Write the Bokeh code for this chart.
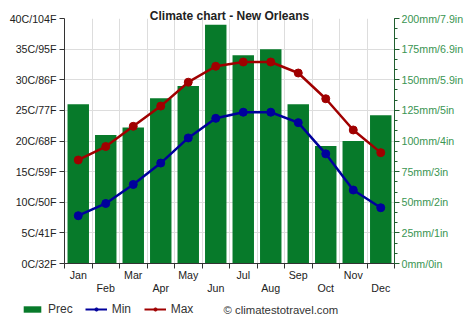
from bokeh.plotting import figure
from bokeh.layouts import column
from bokeh.models import (Range1d, LinearAxis, FixedTicker, Label, Legend, LegendItem,
                          ColumnDataSource)
from bokeh.embed import file_html
from bokeh.resources import INLINE

months = ["Jan", "Feb", "Mar", "Apr", "May", "Jun", "Jul", "Aug", "Sep", "Oct", "Nov", "Dec"]
prec = [130, 105, 111, 135, 145, 195, 170, 175, 130, 96, 100, 121]
tmin = [7.8, 9.8, 12.9, 16.4, 20.5, 23.7, 24.7, 24.7, 23.0, 17.9, 12.0, 9.1]
tmax = [16.9, 19.1, 22.4, 25.7, 29.6, 32.2, 32.9, 32.9, 31.1, 26.9, 21.8, 18.1]
left_labels = ["0C/32F", "5C/41F", "10C/50F", "15C/59F", "20C/68F", "25C/77F",
               "30C/86F", "35C/95F", "40C/104F"]
right_labels = ["0mm/0in", "25mm/1in", "50mm/2in", "75mm/3in", "100mm/4in",
                "125mm/5in", "150mm/5.9in", "175mm/6.9in", "200mm/7.9in"]

FONT = "Liberation Sans"
GREEN = "#077a2a"
BLUE = "#00009c"
RED = "#a00000"

xs = list(range(1, 13))
src = ColumnDataSource(dict(x=xs, prec=prec, tmin=tmin, tmax=tmax))

p = figure(width=474, height=299, output_backend="svg", toolbar_location=None,
           x_range=Range1d(0.5, 12.5), y_range=Range1d(0, 40),
           min_border_left=64, min_border_right=80, min_border_top=18,
           min_border_bottom=36, title="Climate chart - New Orleans")
p.extra_y_ranges = {"prec": Range1d(0, 200)}
p.outline_line_color = None
p.background_fill_color = "white"
p.title.align = "center"
p.title.offset = 8
p.title.standoff = -8
p.title.text_font = FONT
p.title.text_font_size = "9pt"
p.title.text_font_style = "bold"
p.title.text_color = "#222222"

# left axis
p.yaxis.ticker = FixedTicker(ticks=[0, 5, 10, 15, 20, 25, 30, 35, 40])
p.yaxis.major_label_overrides = {v: l for v, l in zip(range(0, 45, 5), left_labels)}
p.yaxis.major_label_text_font = FONT
p.yaxis.major_label_text_font_size = "8pt"
p.yaxis.major_label_text_color = "#222222"
p.yaxis.axis_line_color = "#333333"
p.yaxis.major_tick_line_color = "#333333"
p.yaxis.major_tick_in = 0
p.yaxis.major_tick_out = 5
p.yaxis.minor_tick_line_color = None
p.yaxis.major_label_standoff = 3

# right axis
ra = LinearAxis(y_range_name="prec",
                ticker=FixedTicker(ticks=list(range(0, 225, 25)),
                                   minor_ticks=[i * 25 / 3 for i in range(25)]))
ra.major_label_overrides = {v: l for v, l in zip(range(0, 225, 25), right_labels)}
ra.major_label_text_font = FONT
ra.major_label_text_font_size = "8pt"
ra.major_label_text_color = "#3a9552"
ra.axis_line_color = "#1f5e2e"
ra.major_tick_line_color = "#1f5e2e"
ra.minor_tick_line_color = "#1f5e2e"
ra.major_tick_in = 0
ra.major_tick_out = 5
ra.minor_tick_in = 0
ra.minor_tick_out = 3
ra.major_label_standoff = 2
p.add_layout(ra, "right")

# bottom axis: staggered month labels via two-line labels
bounds = [i + 0.5 for i in range(0, 13)]
p.xaxis.ticker = FixedTicker(ticks=xs, minor_ticks=bounds)
p.xaxis.major_label_overrides = {i: (months[i - 1] if i % 2 == 1 else "\n" + months[i - 1])
                                 for i in xs}
p.xaxis.major_tick_out = 0
p.xaxis.major_tick_in = 0
p.xaxis.minor_tick_out = 5
p.xaxis.minor_tick_in = 0
p.xaxis.axis_line_color = "#333333"
p.xaxis.minor_tick_line_color = "#333333"
p.xaxis.major_label_text_font = FONT
p.xaxis.major_label_text_font_size = "8pt"
p.xaxis.major_label_text_color = "#222222"
p.xaxis.major_label_text_line_height = 1.15
p.xaxis.major_label_standoff = 0

# grids
p.xgrid.ticker = FixedTicker(ticks=bounds)
p.xgrid.grid_line_color = "#dddddd"
p.ygrid.grid_line_color = "#dddddd"

p.vbar(x="x", top="prec", width=0.78, source=src, y_range_name="prec",
       fill_color=GREEN, line_color=None)
p.line("x", "tmin", source=src, line_color=BLUE, line_width=2.5)
p.scatter("x", "tmin", source=src, size=8, fill_color=BLUE, line_color=BLUE)
p.line("x", "tmax", source=src, line_color=RED, line_width=2.5)
p.scatter("x", "tmax", source=src, size=8, fill_color=RED, line_color=RED)

# legend strip
q = figure(width=474, height=32, output_backend="svg", toolbar_location=None,
           x_range=Range1d(0, 474), y_range=Range1d(0, 32),
           min_border=0, x_axis_type=None, y_axis_type=None)
q.frame_align = False
q.outline_line_color = None
q.xgrid.visible = False
q.ygrid.visible = False
dummy = ColumnDataSource(dict(x=[-1000, -999], y=[-1000, -1000], top=[-1000, -1000]))
rb = q.vbar(x="x", top="top", width=1, source=dummy, fill_color=GREEN, line_color=None)
rmin = q.line("x", "y", source=dummy, line_color=BLUE, line_width=2)
smin = q.scatter("x", "y", source=dummy, size=4, fill_color=BLUE, line_color=BLUE)
rmax = q.line("x", "y", source=dummy, line_color=RED, line_width=2)
smax = q.scatter("x", "y", source=dummy, size=4, fill_color=RED, line_color=RED)
legend = Legend(items=[LegendItem(label="Prec", renderers=[rb]),
                       LegendItem(label="Min", renderers=[rmin, smin]),
                       LegendItem(label="Max", renderers=[rmax, smax])],
                orientation="horizontal", location=(21, 15),
                glyph_width=22, glyph_height=8, label_text_font=FONT,
                label_text_font_size="9pt", label_text_color="#333333",
                border_line_color=None, background_fill_alpha=0,
                spacing=12, padding=0, margin=0, label_standoff=5,
                label_height=10)
q.add_layout(legend)
q.add_layout(Label(x=223, y=22, text="\u00a9 climatestotravel.com", text_align="left",
                   text_baseline="middle", text_font=FONT, text_font_size="8.5pt",
                   text_color="#333333"))

layout = column(p, q, spacing=0)
open("out.html", "w").write(file_html(layout, INLINE))
